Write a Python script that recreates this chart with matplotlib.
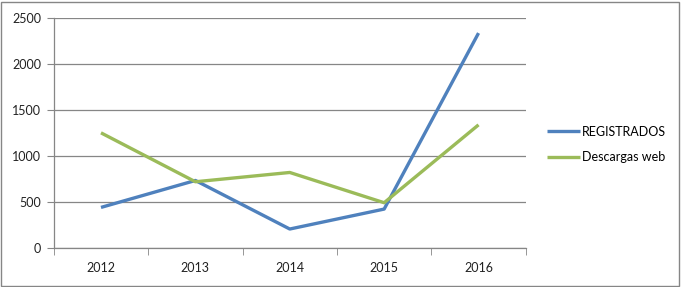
import numpy as np
import matplotlib.pyplot as plt
from matplotlib.patches import Rectangle

plt.rcParams['font.family'] = ['Lato', 'DejaVu Sans']

# datos
years = ['2012', '2013', '2014', '2015', '2016']
registrados = [441, 734, 206, 423, 2337]
descargas = [1252, 720, 821, 492, 1339]

fig = plt.figure(figsize=(6.81, 2.87), dpi=100)
ax = fig.add_axes([0.079, 0.136, 0.693, 0.801])

x = np.arange(len(years))
ax.plot(x, registrados, color='#4F81BD', lw=2.4, label='REGISTRADOS', solid_capstyle='butt')
ax.plot(x, descargas, color='#9BBB59', lw=2.4, label='Descargas web', solid_capstyle='butt')

ax.set_ylim(0, 2500)
ax.set_yticks(np.arange(0, 2501, 500))
ax.set_xlim(-0.5, len(years) - 0.5)
ax.set_xticks(x)
ax.set_xticklabels(years)
ax.set_xticks(np.arange(-0.5, len(years), 1), minor=True)
ax.tick_params(axis='x', which='major', length=0, pad=10, labelsize=9, colors='#222222')
ax.tick_params(axis='x', which='minor', length=5, color='#868686', direction='out')
ax.tick_params(axis='y', length=5, color='#868686', labelsize=9, colors='#222222', pad=4)

ax.grid(axis='y', color='#868686', lw=0.9)
ax.set_axisbelow(True)
for s in ['top', 'right']:
    ax.spines[s].set_visible(False)
for s in ['left', 'bottom']:
    ax.spines[s].set_color('#868686')
    ax.spines[s].set_linewidth(0.9)

ax.legend(loc='center left', bbox_to_anchor=(1.022, 0.45), frameon=False,
          fontsize=9, handlelength=2.6, handletextpad=0.2, labelspacing=1.1)

# borde del grafico
fig.patches.append(Rectangle((0.002, 0.004), 0.995, 0.99, transform=fig.transFigure,
                             fill=False, edgecolor='#868686', lw=1))

plt.savefig('out.png', dpi=100)
